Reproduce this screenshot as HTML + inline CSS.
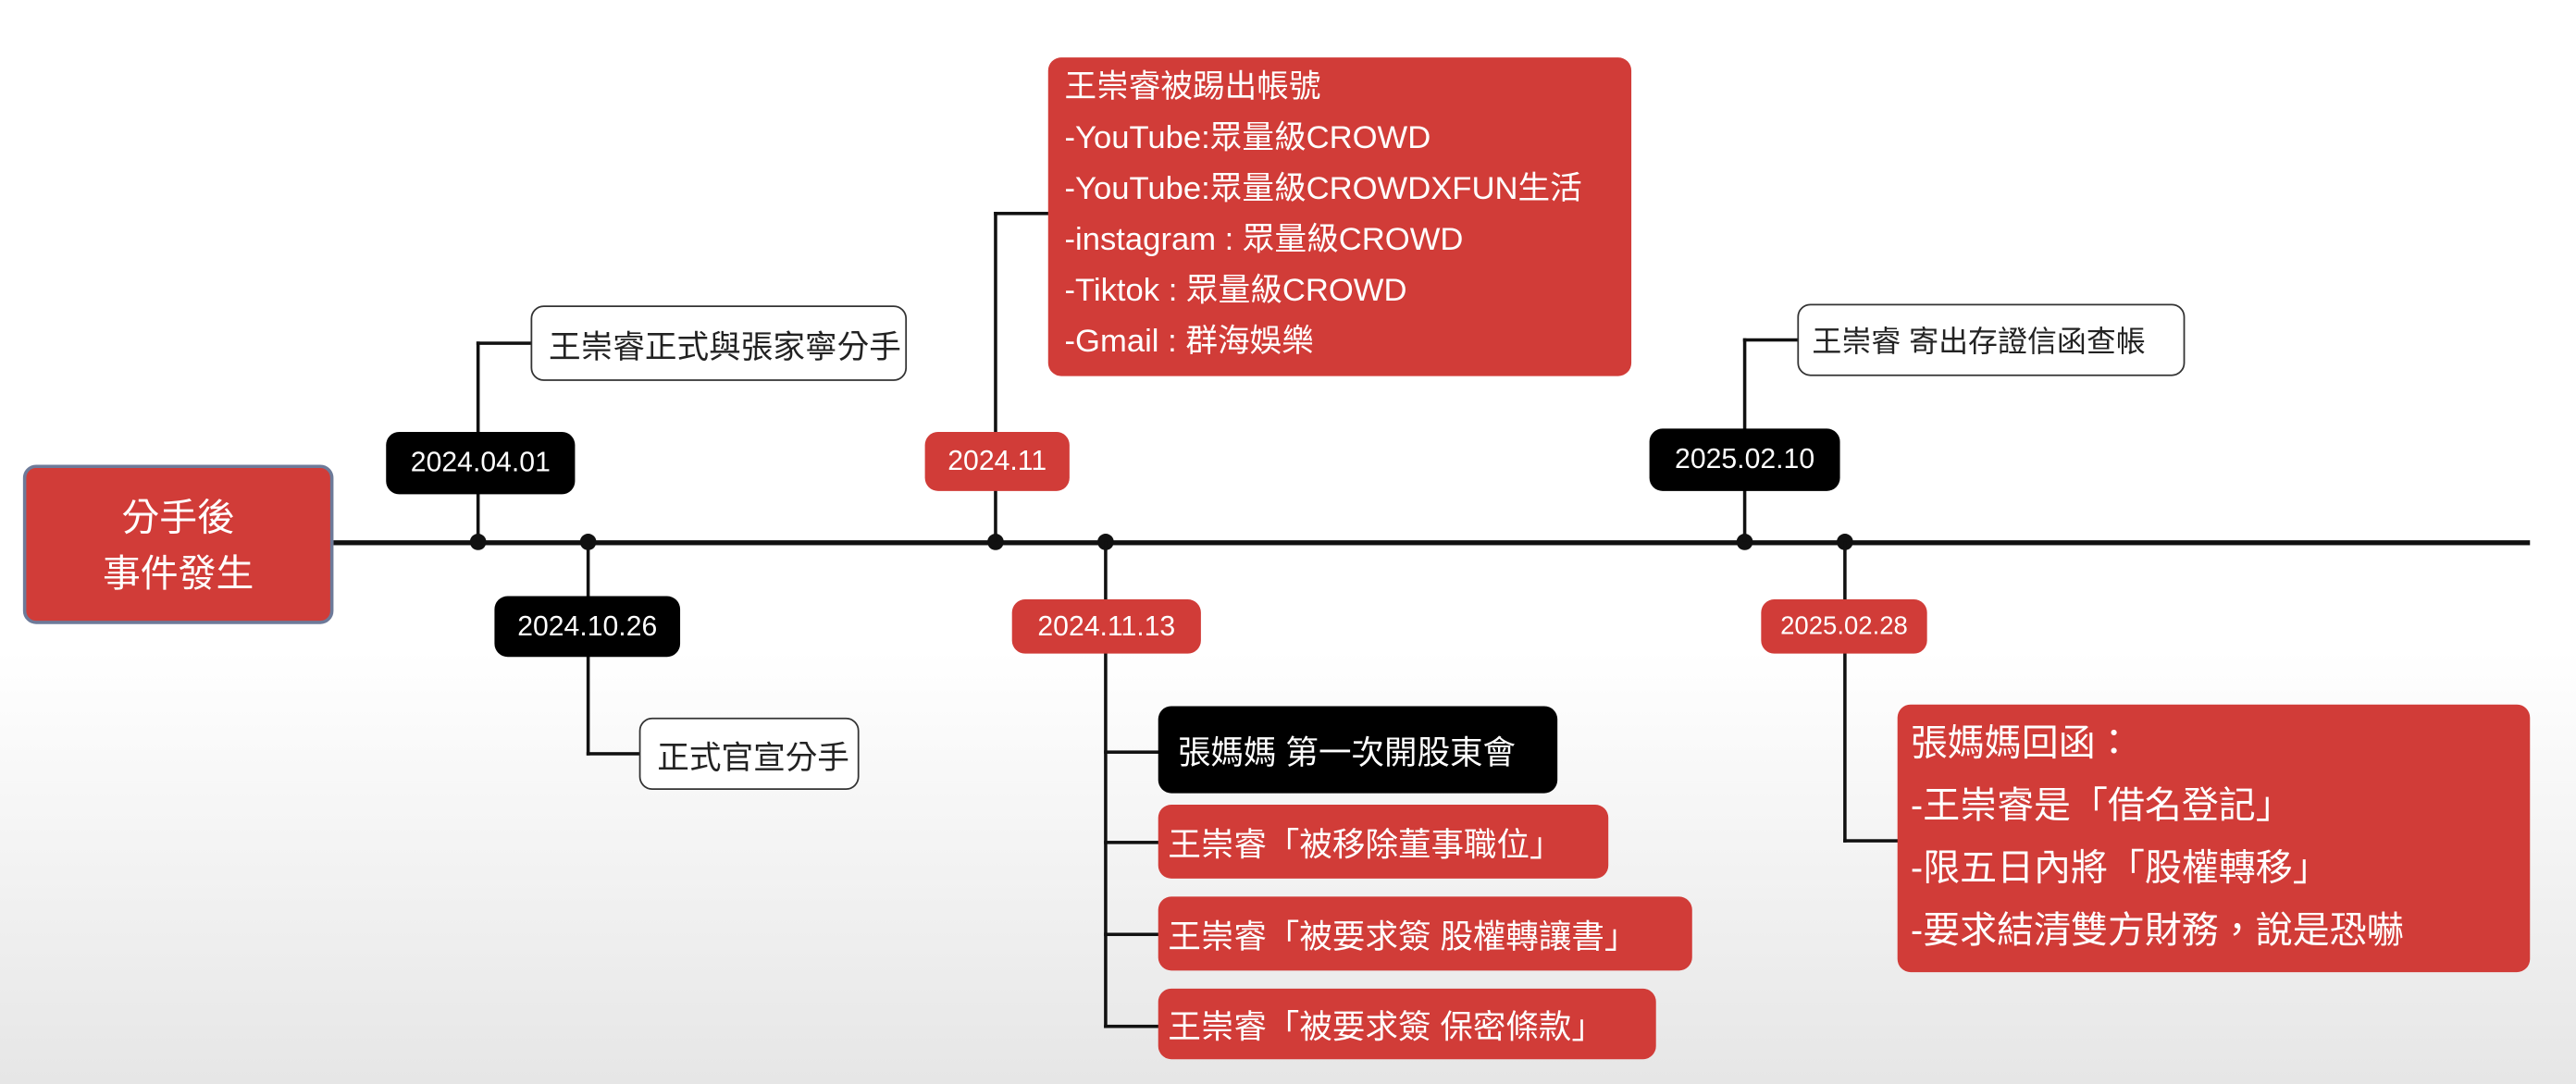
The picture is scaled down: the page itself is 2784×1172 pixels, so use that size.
<!DOCTYPE html>
<html><head><meta charset="utf-8"><style>
html,body{margin:0;padding:0;width:2784px;height:1172px;overflow:hidden;background:#fff;}
#bg{position:absolute;left:0;top:0;width:2784px;height:1172px;background:linear-gradient(#ffffff 0%,#ffffff 60%,#e6e6e6 100%);}
#c{position:absolute;left:0;top:0;width:1568px;height:660px;transform:scale(1.7755);transform-origin:0 0;font-family:"Liberation Sans","Noto Sans CJK TC",sans-serif;}
.b{position:absolute;box-sizing:border-box;display:flex;align-items:center;white-space:nowrap;}
.blk{background:#000;color:#fff;border-radius:8px;justify-content:center;font-size:17px;}
.red{background:#d13c38;color:#fff;border-radius:8px;}
.wht{background:#fff;color:#222;border:1.5px solid #333;border-radius:8px;}
.l{position:absolute;background:#111;}
.d{position:absolute;width:10px;height:10px;border-radius:50%;background:#111;}
</style></head><body><div id="bg"></div><div id="c">
<div class="l" style="left:203px;top:329px;width:1337px;height:2.5px"></div>
<div class="b red" style="left:14px;top:283px;width:189px;height:97px;border:2px solid #6d7a99;justify-content:center;text-align:center;font-size:23px;line-height:34px;white-space:normal">分手後<br>事件發生</div>
<div class="d" style="left:286px;top:325px"></div>
<div class="d" style="left:353px;top:325px"></div>
<div class="d" style="left:601px;top:325px"></div>
<div class="d" style="left:668px;top:325px"></div>
<div class="d" style="left:1057px;top:325px"></div>
<div class="d" style="left:1118px;top:325px"></div>
<div class="l" style="left:290px;top:208px;width:2px;height:122px"></div>
<div class="l" style="left:290px;top:208px;width:34px;height:2px"></div>
<div class="b blk" style="left:235px;top:263px;width:115px;height:38px">2024.04.01</div>
<div class="b wht" style="left:323px;top:186px;width:229px;height:46px;padding-left:10px;font-size:19.5px">王崇睿正式與張家寧分手</div>
<div class="l" style="left:357px;top:330px;width:2px;height:130px"></div>
<div class="l" style="left:357px;top:458px;width:33px;height:2px"></div>
<div class="b blk" style="left:301px;top:363px;width:113px;height:37px">2024.10.26</div>
<div class="b wht" style="left:389px;top:437px;width:134px;height:44px;padding-left:10px;font-size:19.5px">正式官宣分手</div>
<div class="l" style="left:605px;top:129px;width:2px;height:201px"></div>
<div class="l" style="left:605px;top:129px;width:34px;height:2px"></div>
<div class="b red" style="left:563px;top:263px;width:88px;height:36px;justify-content:center;font-size:17px">2024.11</div>
<div class="b red" style="left:638px;top:35px;width:355px;height:194px;padding-left:10px;font-size:19.5px;line-height:31px;align-items:flex-start;padding-top:3px;white-space:pre">王崇睿被踢出帳號
-YouTube:眾量級CROWD
-YouTube:眾量級CROWDXFUN生活
-instagram : 眾量級CROWD
-Tiktok : 眾量級CROWD
-Gmail : 群海娛樂</div>
<div class="l" style="left:672px;top:330px;width:2px;height:296px"></div>
<div class="l" style="left:672px;top:457px;width:34px;height:2px"></div>
<div class="l" style="left:672px;top:512px;width:34px;height:2px"></div>
<div class="l" style="left:672px;top:568px;width:34px;height:2px"></div>
<div class="l" style="left:672px;top:624px;width:34px;height:2px"></div>
<div class="b red" style="left:616px;top:365px;width:115px;height:33px;justify-content:center;font-size:17px">2024.11.13</div>
<div class="b" style="left:705px;top:430px;width:243px;height:53px;background:#000;color:#fff;border-radius:8px;padding-left:12px;font-size:20px">張媽媽 第一次開股東會</div>
<div class="b red" style="left:705px;top:490px;width:274px;height:45px;padding-left:6px;font-size:20px">王崇睿「被移除董事職位」</div>
<div class="b red" style="left:705px;top:546px;width:325px;height:45px;padding-left:6px;font-size:20px">王崇睿「被要求簽 股權轉讓書」</div>
<div class="b red" style="left:705px;top:602px;width:303px;height:43px;padding-left:6px;font-size:20px">王崇睿「被要求簽 保密條款」</div>
<div class="l" style="left:1061px;top:206px;width:2px;height:124px"></div>
<div class="l" style="left:1061px;top:206px;width:34px;height:2px"></div>
<div class="b blk" style="left:1004px;top:261px;width:116px;height:38px">2025.02.10</div>
<div class="b wht" style="left:1094px;top:185px;width:236px;height:44px;padding-left:8px;font-size:18px">王崇睿 寄出存證信函查帳</div>
<div class="l" style="left:1122px;top:330px;width:2px;height:183px"></div>
<div class="l" style="left:1122px;top:511px;width:34px;height:2px"></div>
<div class="b red" style="left:1072px;top:365px;width:101px;height:33px;justify-content:center;font-size:15.5px">2025.02.28</div>
<div class="b red" style="left:1155px;top:429px;width:385px;height:163px;padding-left:8px;font-size:22.5px;line-height:38px;align-items:flex-start;padding-top:5px;white-space:pre">張媽媽回函：
-王崇睿是「借名登記」
-限五日內將「股權轉移」
-要求結清雙方財務，說是恐嚇</div>
</div></body></html>
